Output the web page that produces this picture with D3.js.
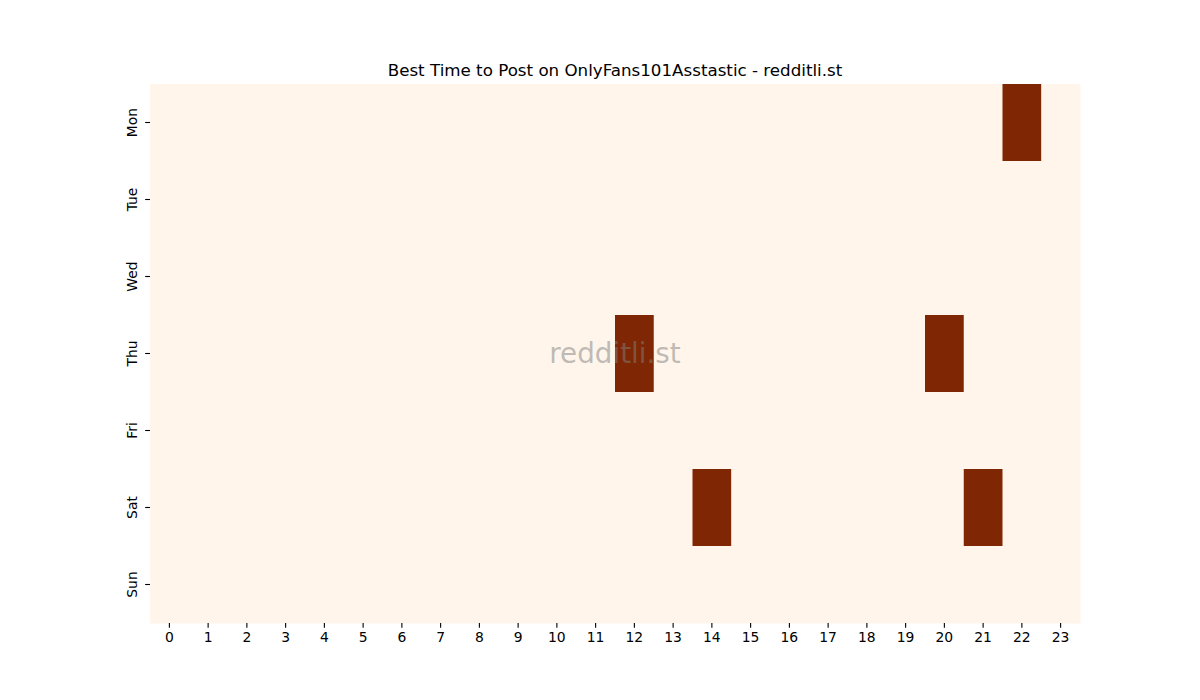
<!DOCTYPE html>
<html>
<head>
<meta charset="utf-8">
<script src="https://cdn.jsdelivr.net/npm/d3@7"></script>
<style>
  body { margin: 0; background: #fff; }
  text { font-family: "DejaVu Sans", sans-serif; }
</style>
</head>
<body>
<svg id="chart" width="1200" height="700"></svg>
<script>
const days = ["Mon", "Tue", "Wed", "Thu", "Fri", "Sat", "Sun"]
const hours = d3.range(24)
// cells that were marked as best (day, hour)
const hotCells = [
    ["Mon", 22],
    ["Thu", 12],
    ["Thu", 20],
    ["Sat", 14],
    ["Sat", 21]
]

const cells = []
days.forEach(day => hours.forEach(hour => {
    const hot = hotCells.some(c => c[0] === day && c[1] === hour)
    cells.push({ day, hour, value: hot ? 1 : 0 })
}))

const margin = { left: 150, right: 120, top: 84, bottom: 77 }
const width = 1200 - margin.left - margin.right
const height = 700 - margin.top - margin.bottom

const svg = d3.select("#chart")
const g = svg.append("g").attr("transform", `translate(${margin.left},${margin.top})`)

const xScale = d3.scaleBand().domain(hours).range([0, width])
const yScale = d3.scaleBand().domain(days).range([0, height])
const color = d3.scaleLinear().domain([0, 1]).range(["#fff5eb", "#7f2704"])

g.selectAll(".cell")
    .data(cells)
    .join("rect")
    .attr("class", "cell")
    .attr("x", d => xScale(d.hour))
    .attr("y", d => yScale(d.day))
    .attr("width", xScale.bandwidth() + 0.5)
    .attr("height", yScale.bandwidth() + 0.5)
    .attr("fill", d => color(d.value))

const xAxis = d3.axisBottom(xScale).tickSize(4.86).tickPadding(4)
g.append("g")
    .attr("transform", `translate(0,${height})`)
    .call(xAxis)
    .call(a => a.select(".domain").remove())
    .call(a => a.selectAll("text").attr("font-size", "13.9px").attr("fill", "#000"))
    .call(a => a.selectAll("line").attr("stroke", "#000").attr("stroke-width", 1.1))

const yAxis = d3.axisLeft(yScale).tickSize(4.86).tickPadding(4)
g.append("g")
    .call(yAxis)
    .call(a => a.select(".domain").remove())
    .call(a => a.selectAll("line").attr("stroke", "#000").attr("stroke-width", 1.1))
    .call(a => a.selectAll("text")
        .attr("font-size", "13.9px")
        .attr("fill", "#000")
        .attr("x", null).attr("dy", null)
        .attr("text-anchor", "middle")
        .attr("transform", "translate(-13,0) rotate(-90)"))

svg.append("text")
    .attr("x", margin.left + width / 2)
    .attr("y", margin.top - 8)
    .attr("text-anchor", "middle")
    .attr("font-size", "16.7px")
    .attr("fill", "#000")
    .text("Best Time to Post on OnlyFans101Asstastic - redditli.st")

g.append("text")
    .attr("x", width / 2)
    .attr("y", height / 2)
    .attr("dy", "0.35em")
    .attr("text-anchor", "middle")
    .attr("font-size", "27.8px")
    .attr("fill", "#808080")
    .attr("fill-opacity", 0.5)
    .text("redditli.st")
</script>
</body>
</html>
